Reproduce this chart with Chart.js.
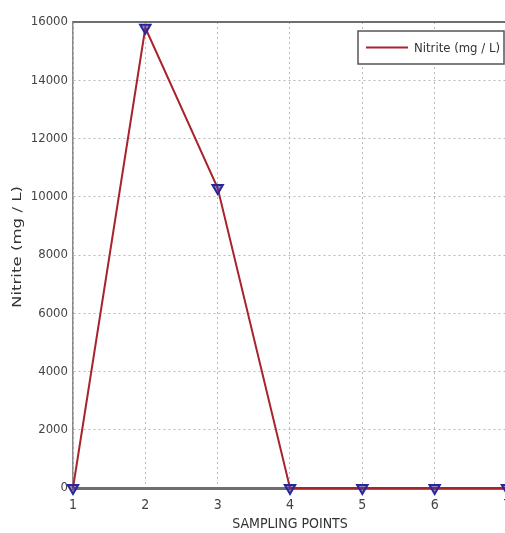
<!DOCTYPE html>
<html>
<head>
<meta charset="utf-8">
<script src="https://cdn.jsdelivr.net/npm/chart.js@4/dist/chart.umd.min.js"></script>
<style>
  html, body { margin: 0; padding: 0; background: #fff; overflow: hidden; }
  #wrap { width: 520px; height: 533px; }
</style>
</head>
<body>
<div id="wrap"><canvas id="c" width="520" height="533"></canvas></div>
<script>
// sampling points along x, nitrite concentration in mg/L
const samplingPoints = ['1', '2', '3', '4', '5', '6', '7']
const nitrite = [0, 15800, 10300, 0, 0, 0, 0]
const yTicks = [0, 2000, 4000, 6000, 8000, 10000, 12000, 14000, 16000]
const seriesLabel = 'Nitrite (mg / L)'
const yTitle = 'Nitrite (mg / L)'

const FONT = 'DejaVu Sans Condensed, Liberation Sans Narrow, Liberation Sans, sans-serif'

// matlab-ish frame, legend box and the (stretched) y title
const frame = {
  id: 'frame',
  afterDraw(chart) {
    const { ctx, chartArea: a } = chart
    ctx.save()
    // top border
    ctx.strokeStyle = '#6e6e6e'
    ctx.lineWidth = 2
    ctx.beginPath()
    ctx.moveTo(a.left, a.top)
    ctx.lineTo(a.right + 20, a.top)
    ctx.stroke()

    // legend
    const bx = 358, by = 31, bw = 146, bh = 33
    ctx.fillStyle = '#fff'
    ctx.fillRect(bx, by, bw, bh)
    ctx.strokeStyle = '#555'
    ctx.lineWidth = 1.5
    ctx.strokeRect(bx, by, bw, bh)
    ctx.strokeStyle = '#a8232c'
    ctx.lineWidth = 2
    ctx.beginPath()
    ctx.moveTo(366, by + bh / 2)
    ctx.lineTo(408, by + bh / 2)
    ctx.stroke()
    ctx.fillStyle = '#333'
    ctx.font = '13px ' + FONT
    ctx.textBaseline = 'middle'
    ctx.fillText(seriesLabel, 414, by + bh / 2 + 1)

    // y title, the source image is squeezed sideways so stretch it along its length
    ctx.font = '12px ' + FONT
    const w = ctx.measureText(yTitle).width
    ctx.translate(18, (a.top + a.bottom) / 2 - 8)
    ctx.rotate(-Math.PI / 2)
    ctx.scale(122 / w, 1)
    ctx.textAlign = 'center'
    ctx.textBaseline = 'middle'
    ctx.fillText(yTitle, 0, 0)
    ctx.restore()
  }
}

new Chart(document.getElementById('c'), {
  type: 'line',
  data: {
    labels: samplingPoints,
    datasets: [{
      label: seriesLabel,
      data: nitrite,
      borderColor: '#a8232c',
      borderWidth: 2,
      tension: 0,
      fill: false,
      clip: false,
      pointStyle: 'triangle',
      pointRotation: 180,
      pointRadius: 6,
      pointBorderWidth: 2,
      pointBorderColor: '#27279a',
      pointBackgroundColor: 'rgba(80, 50, 150, 0.6)'
    }]
  },
  options: {
    responsive: false,
    animation: false,
    layout: { padding: { top: 22, right: 13, left: 0, bottom: 0 } },
    plugins: {
      legend: { display: false },
      tooltip: { enabled: false }
    },
    scales: {
      x: {
        type: 'category',
        offset: false,
        afterFit(s) { s.height = 45 },
        grid: {
          color: '#b8b8b8',
          lineWidth: 1,
          drawTicks: false
        },
        border: { display: true, color: '#6e6e6e', width: 3, dash: [2, 3] },
        ticks: {
          color: '#444',
          padding: 9,
          font: { family: FONT, size: 14 }
        },
        title: {
          display: true,
          text: 'SAMPLING POINTS',
          color: '#333',
          padding: { top: 0, bottom: 0 },
          font: { family: FONT, size: 14 }
        }
      },
      y: {
        min: 0,
        max: 16000,
        afterFit(s) { s.width = 73 },
        afterBuildTicks(s) { s.ticks = yTicks.map(v => ({ value: v })) },
        grid: {
          color: '#b8b8b8',
          lineWidth: 1,
          drawTicks: false
        },
        border: { display: true, color: '#8a8a8a', width: 1.5, dash: [2, 3] },
        ticks: {
          color: '#444',
          padding: 5,
          font: { family: FONT, size: 13 },
          callback: v => String(v)
        },
        title: { display: false }
      }
    }
  },
  plugins: [frame]
})
</script>
</body>
</html>
